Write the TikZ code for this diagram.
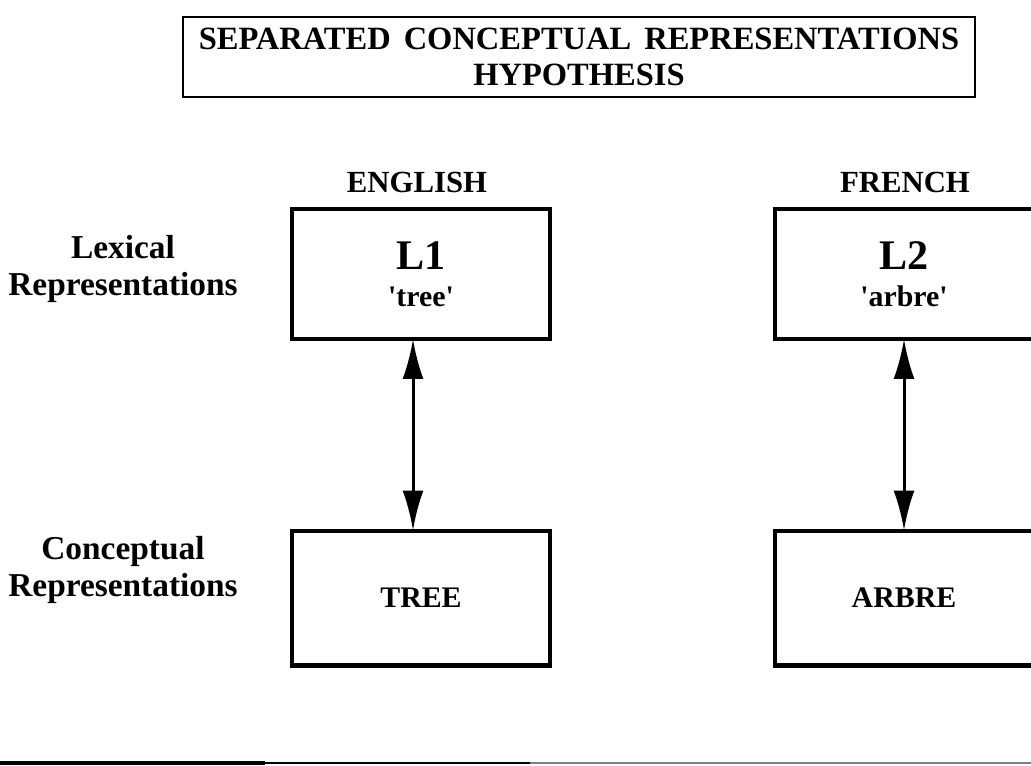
\documentclass[tikz,border=0pt]{standalone}
\usepackage{fontspec}
\setmainfont{Liberation Serif}[Ligatures=TeXOff]
\usetikzlibrary{
    arrows.meta,
    positioning
}
\tikzset{
    titlebox/.style={draw, line width=1.6pt, minimum width=15.84cm, minimum height=1.6cm,
        align=center, inner sep=0pt, font=\bfseries\fontsize{18.5}{20.5}\selectfont},
    langlabel/.style={font=\bfseries\fontsize{17.5}{20}\selectfont, inner sep=0pt},
    rowlabel/.style={align=center, font=\bfseries\fontsize{19}{21}\selectfont, inner sep=0pt},
    wordbox/.style={draw, line width=2.3pt, minimum width=5.16cm, minimum height=2.6cm,
        align=center, inner sep=0pt, outer sep=0pt, font=\bfseries},
    twoway/.style={line width=1.7pt, {Latex[length=0.8cm, width=0.42cm]}-{Latex[length=0.8cm, width=0.42cm]}}
}
\newcommand{\langcode}[1]{{\fontsize{24}{26}\selectfont #1}}
\newcommand{\wordform}[1]{{\fontsize{17}{18}\selectfont #1}}
\begin{document}
\begin{tikzpicture}[x=0.02cm, y=-0.02cm]
    \useasboundingbox (0,0) rectangle (1031,765);
    % heading
    \node[titlebox] (title) at (579,57) {SEPARATED\hspace{0.4em}CONCEPTUAL\hspace{0.4em}REPRESENTATIONS\\HYPOTHESIS};
    % languages
    \node[langlabel] (english) at (417,182) {ENGLISH};
    \node[langlabel] (french) at (905,182) {FRENCH};
    % levels
    \node[rowlabel] (lexical) at (123,269) {Lexical\\Representations};
    \node[rowlabel] (conceptual) at (123,570) {Conceptual\\Representations};
    % boxes
    \node[wordbox] (lone) at (421,274) {\langcode{L1}\\[9pt]\wordform{'tree'}};
    \node[wordbox] (ltwo) at (904,274) {\langcode{L2}\\[9pt]\wordform{'arbre'}};
    \node[wordbox, minimum height=2.7cm, font=\bfseries\fontsize{17}{20}\selectfont] (tree) at (421,598) {TREE};
    \node[wordbox, minimum height=2.7cm, font=\bfseries\fontsize{17}{20}\selectfont] (arbre) at (904,598) {ARBRE};
    % links
    \draw[twoway] ([xshift=-0.16cm]lone.south) -- ([xshift=-0.16cm]tree.north);
    \draw[twoway] (ltwo.south) -- (arbre.north);
    % rule at the foot
    \draw[line width=2pt] (0,763) -- (265,763);
    \draw[line width=1.2pt] (265,763) -- (530,763);
    \draw[line width=1.2pt, black!50] (530,763) -- (1031,763);
\end{tikzpicture}
\end{document}
